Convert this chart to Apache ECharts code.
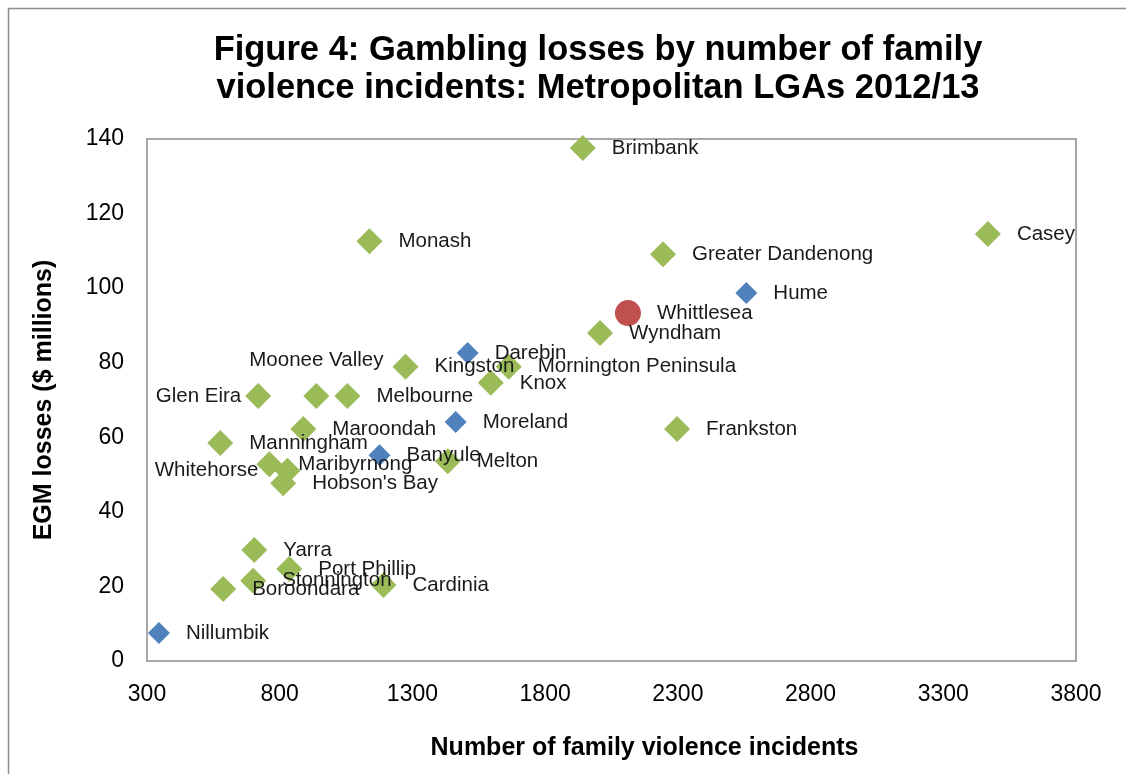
<!DOCTYPE html>
<html>
<head>
<meta charset="utf-8">
<script src="https://cdn.jsdelivr.net/npm/echarts@6/dist/echarts.min.js"></script>
<style>
html,body{margin:0;padding:0;background:#fff;}
#chart{width:1126px;height:774px;}
</style>
</head>
<body>
<div id="chart"></div>
<script>
// ---- data ----
const titleLines = ["Figure 4: Gambling losses by number of family", "violence incidents: Metropolitan LGAs 2012/13"];
const xAxisTitle = "Number of family violence incidents";
const yAxisTitle = "EGM losses ($ millions)";

// green series (other metropolitan LGAs)
const greenNames = ["Brimbank","Monash","Greater Dandenong","Casey","Wyndham","Kingston","Mornington Peninsula","Knox","Glen Eira","Moonee Valley","Melbourne","Maroondah","Frankston","Manningham","Maribyrnong","Whitehorse","Hobson's Bay","Melton","Yarra","Port Phillip","Stonnington","Boroondara","Cardinia"];
const greenX = [1942,1138,2244,3468,2007,1274,1663,1595,719,938,1055,889,2297,576,761,829,813,1433,704,836,700,587,1191];
const greenY = [137.6,112.6,109.1,114.5,88.0,78.9,78.9,74.6,71.1,71.1,71.1,62.2,62.2,58.5,52.8,51.0,47.7,53.6,29.8,24.7,21.5,19.3,20.4];

// blue series
const blueNames = ["Hume","Darebin","Moreland","Banyule","Nillumbik"];
const blueX = [2558,1508,1463,1176,345];
const blueY = [98.7,82.6,64.1,55.2,7.5];

// red series
const redNames = ["Whittlesea"];
const redX = [2112];
const redY = [93.3];

const xTicks = [300,800,1300,1800,2300,2800,3300,3800];
const yTicks = [0,20,40,60,80,100,120,140];

// ---- label placement overrides (style only) ----
const labelOverrides = {
  "Glen Eira": {position:"left", distance:4},
  "Whitehorse": {position:"left", distance:16},
  "Moonee Valley": {position:"top", distance:12}
};

function build(names, xs, ys){
  return names.map((n,i)=>{
    const d = {name:n, value:[xs[i], ys[i]]};
    if (labelOverrides[n]) d.label = labelOverrides[n];
    return d;
  });
}

const FONT = "'Liberation Sans', Arial, sans-serif";
const labelStyle = {show:true, formatter:"{b}", position:"right", distance:16, color:"#1a1a1a", fontSize:20.5, fontFamily:FONT};

const chart = echarts.init(document.getElementById('chart'), null, {renderer:'canvas'});
chart.setOption({
  animation:false,
  backgroundColor:"#ffffff",
  title:{
    text: titleLines.join("\n"),
    left: 593, top: 26, textAlign:"center",
    textStyle:{fontFamily:FONT, fontWeight:"bold", fontSize:34.5, lineHeight:38, color:"#000"}
  },
  graphic:[{
    type:"rect", shape:{x:8.5, y:8.5, width:1300, height:1000},
    style:{fill:null, stroke:"#8c8c8c", lineWidth:1.5}, silent:true, z:-1
  }],
  grid:{left:147, right:50, top:139, bottom:113, show:true, borderColor:"#8c8c8c", borderWidth:1.5},
  xAxis:{
    type:"value", min:300, max:3800, interval:500,
    name:xAxisTitle, nameLocation:"middle", nameGap:75,
    nameTextStyle:{fontFamily:FONT, fontWeight:"bold", fontSize:25, color:"#000", padding:[0,0,0,66]},
    axisLine:{show:false}, axisTick:{show:false}, splitLine:{show:false},
    axisLabel:{fontFamily:FONT, fontSize:23, color:"#000", margin:22,
      formatter:v=>xTicks.includes(v)?String(v):""}
  },
  yAxis:{
    type:"value", min:0, max:140, interval:20,
    name:yAxisTitle, nameLocation:"middle", nameGap:90,
    nameTextStyle:{fontFamily:FONT, fontWeight:"bold", fontSize:25, color:"#000"},
    axisLine:{show:false}, axisTick:{show:false}, splitLine:{show:false},
    axisLabel:{fontFamily:FONT, fontSize:23, color:"#000", margin:23,
      formatter:v=>yTicks.includes(v)?String(v):""}
  },
  series:[
    {name:"Other LGAs", type:"scatter", symbol:"diamond", symbolSize:26,
      itemStyle:{color:"#9BBB59", opacity:1}, label:labelStyle, data:build(greenNames, greenX, greenY)},
    {name:"Northern LGAs", type:"scatter", symbol:"diamond", symbolSize:22,
      itemStyle:{color:"#4F81BD", opacity:1}, label:labelStyle, data:build(blueNames, blueX, blueY)},
    {name:"Whittlesea", type:"scatter", symbol:"circle", symbolSize:26,
      itemStyle:{color:"#C0504D", opacity:1}, label:labelStyle, data:build(redNames, redX, redY)}
  ]
});
</script>
</body>
</html>
